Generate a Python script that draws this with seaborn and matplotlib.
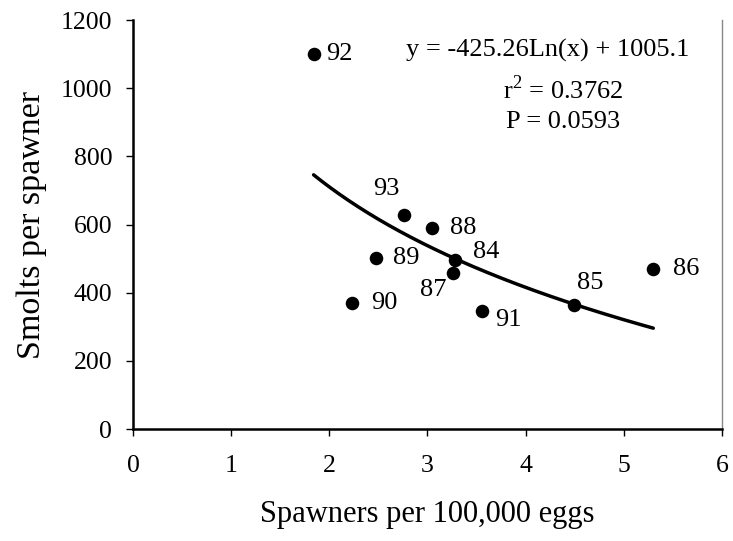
import numpy as np
import pandas as pd
import matplotlib
matplotlib.use("Agg")
import matplotlib.pyplot as plt
import seaborn as sns

years = ["84", "85", "86", "87", "88", "89", "90", "91", "92", "93"]
spawners = [3.28, 4.49, 5.30, 3.26, 3.05, 2.48, 2.23, 3.56, 1.84, 2.76]
smolts = [496, 364, 469, 457, 591, 501, 369, 347, 1100, 628]
fit_a = -425.26
fit_b = 1005.1
eq_lines = ["y = -425.26Ln(x) + 1005.1", "r$^2$ = 0.3762", "P = 0.0593"]

sns.set_style("white")
plt.rcParams['font.family'] = ['Liberation Serif', 'DejaVu Serif']
plt.rcParams['mathtext.fontset'] = 'custom'
plt.rcParams['mathtext.rm'] = 'Liberation Serif'
for k in ["text.color", "axes.labelcolor", "xtick.color", "ytick.color"]:
    plt.rcParams[k] = "black"

df = pd.DataFrame({"year": years, "x": spawners, "y": smolts})

fig = plt.figure(figsize=(7.33, 5.41), dpi=100)
ax = fig.add_axes([0.1814, 0.207, 0.8036, 0.756])

xs = np.linspace(min(spawners), max(spawners), 200)
curve = pd.DataFrame({"x": xs, "y": fit_a * np.log(xs) + fit_b})
sns.lineplot(data=curve, x="x", y="y", ax=ax, color="black", linewidth=2.5)
sns.scatterplot(data=df, x="x", y="y", ax=ax, color="black", s=95,
                edgecolor="black", linewidth=0, zorder=3)

offsets = {
    "92": (9, 0, "left", "center"),
    "93": (-13, 19, "center", "center"),
    "88": (13, 0, "left", "center"),
    "89": (12, 0, "left", "center"),
    "84": (13, 6, "left", "center"),
    "87": (-14, -12, "center", "center"),
    "90": (14, 0, "left", "center"),
    "91": (9, -6.5, "left", "center"),
    "85": (11.5, 16, "center", "center"),
    "86": (14, 0, "left", "center"),
}
for yr, xv, yv in zip(years, spawners, smolts):
    dx, dy, ha, va = offsets[yr]
    ax.annotate(yr, (xv, yv), xytext=(dx, dy), textcoords="offset points",
                ha=ha, va=va, fontsize=19)

ax.text(4.22, 1112, eq_lines[0], ha="center", va="center", fontsize=19)
ax.text(4.38, 995, eq_lines[1], ha="center", va="center", fontsize=19)
ax.text(4.38, 901, eq_lines[2], ha="center", va="center", fontsize=19)

ax.set_xlim(0, 6)
ax.set_ylim(0, 1200)
ax.set_xticks([0, 1, 2, 3, 4, 5, 6])
ax.set_yticks([0, 200, 400, 600, 800, 1000, 1200])
ax.tick_params(axis="both", direction="out", length=5, width=1, labelsize=18.5,
               colors="black", bottom=True, left=True)
ax.tick_params(axis="x", pad=14)
ax.tick_params(axis="y", pad=10)
ax.set_xlabel("Spawners per 100,000 eggs", fontsize=22, labelpad=16)
ax.set_ylabel("Smolts per spawner", fontsize=24.5, labelpad=10)

for s in ["left", "bottom"]:
    ax.spines[s].set_color("black")
    ax.spines[s].set_linewidth(1.8)
ax.spines["top"].set_visible(False)
ax.spines["right"].set_color("#888888")
ax.spines["right"].set_linewidth(1.0)

fig.savefig("out.png", dpi=100)
